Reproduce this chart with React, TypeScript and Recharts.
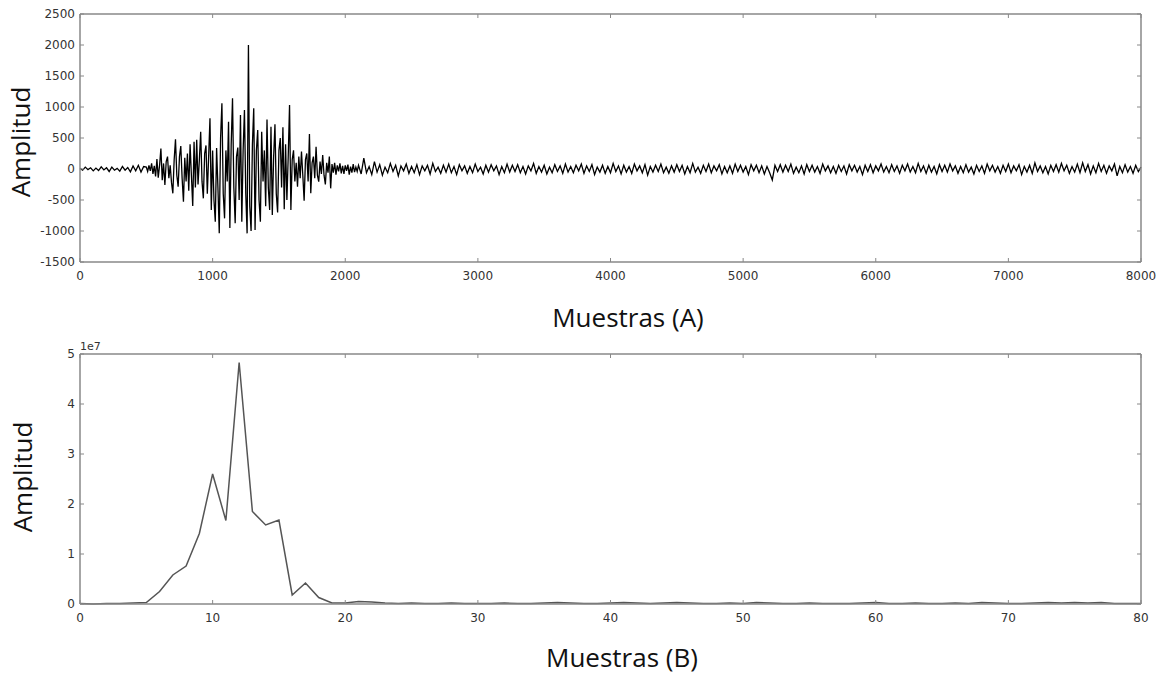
import React from 'react'
import { LineChart, Line, XAxis, YAxis } from 'recharts'

// señal en el tiempo (muestras 0..8000)
const quietHead = [
  10, -20, 30, -10, 20, -30, 15, -25, 35, -15, 20, -40, 30, -20, 10, -35, 40, -20, 25, -45,
  50, -30, 60, -50, 40,
] // 0..480, paso 20

const burst = [
  30, -40, 60, -30, 90, -80, 50, -120, 160, -140,
  60, 330, -180, 90, -258, 120, 200, -150, 60, -220,
  -392, 150, 478, -100, -285, 200, 370, -150, -527, 180,
  -200, 250, -350, 400, -100, -597, 440, -300, 470, -250,
  150, 600, -200, -473, 250, 380, -400, 200, 817, -661,
  300, -500, -850, 340, -300, -1038, 500, 1059, -400, -796,
  300, -200, 763, -950, 400, 1140, -300, -876, 200, 345,
  -500, 870, -850, 300, 950, -400, -1038, 2000, -600, -1000,
  400, 980, -984, 300, 629, -500, -849, 600, -200, 300,
  -600, 800, -300, -661, 683, -742, 200, 720, -400, -700,
  300, 500, -300, 672, -650, 400, -500, 200, 1032, -661,
  150, 300, -200, 100, -285, 200, -150, 280, -100, -510,
  150, 250, -200, 565, -392, 100, 200, -150, 360, -100,
  -204, 120, -80, 225, -100, -250, 100, -60, 200, -312,
  80, -60, 100, -90, 60, -40, 90, -70, 50, -80,
  60, -30, 70, -90, 40, -60, 80, -50, 30, -40,
] // 500..2090, paso 10

const quietTail = [
  60, -80, 177, -60, 40, -90, 120, -50, 70, -100, 30, -60, 90, -40, 60, -110, 50, -30, 80, -70,
  40, -60, 70, -90, 50, -30, 60, -80, 90, -40, 30, -70, 60, -50, 80, -60, 40, -90, 70, -30,
  50, -70, 40, -60, 80, -40, 30, -80, 60, -50, 70, -30, 50, -90, 40, -60, 80, -50, 60, -40,
  70, -60, 40, -80, 50, -30, 90, -70, 40, -50, 60, -80, 30, -60, 70, -40, 50, -70, 80, -50,
  40, -60, 60, -30, 80, -70, 50, -40, 70, -90, 30, -50, 60, -70, 40, -60, 90, -40, 50, -80,
  60, -50, 40, -70, 80, -30, 50, -60, 70, -100, 40, -50, 60, -40, 80, -60, 30, -70, 50, -50,
  70, -40, 60, -80, 40, -60, 90, -50, 30, -70, 60, -40, 80, -60, 50, -30, 70, -80, 40, -60,
  50, -70, 80, -40, 60, -50, 40, -90, 70, -30, 60, -60, 50, -80, 40, -60, -177, 60, -40, 70,
  -50, 60, -40, 80, -70, 30, -60, 50, -80, 70, -40, 60, -50, 40, -70, 80, -30, 50, -60, 40,
  -70, 60, -40, 50, -80, 70, -30, 60, -50, 40, -90, 60, -40, 70, -60, 50, -30, 80, -50, 40,
  -60, 70, -40, 50, -70, 60, -30, 80, -50, 40, -60, 90, -40, 50, -70, 60, -50, 40, -80, 70,
  -40, 60, -50, 80, -30, 50, -70, 40, -60, 70, -50, 30, -80, 60, -40, 50, -70, 80, -30, 60,
  -50, 40, -70, 60, -40, 80, -60, 50, -30, 70, -90, 40, -50, 60, -70, 100, -40, 50, -60, 40,
  -80, 60, -40, 70, -50, 90, -30, 60, -70, 40, -50, 80, -60, 100, -40, 70, -80, 50, -60, 90,
  -40, 60, -70, 50, -30, 80, -110, 40, -60, 70, -50, 40, -70, 60, -40, 30,
] // 2100..8000, paso 20

// espectro (unidades de 1e7), indices 0..80
const spectrum = [
  0.01, 0.0, 0.01, 0.01, 0.02, 0.03, 0.25, 0.58, 0.76, 1.41,
  2.6, 1.67, 4.83, 1.85, 1.58, 1.68, 0.18, 0.42, 0.13, 0.02,
  0.02, 0.05, 0.04, 0.02, 0.01, 0.02, 0.01, 0.01, 0.02, 0.01,
  0.01, 0.01, 0.02, 0.01, 0.01, 0.02, 0.03, 0.02, 0.01, 0.01,
  0.02, 0.03, 0.02, 0.01, 0.02, 0.03, 0.02, 0.01, 0.01, 0.02,
  0.01, 0.03, 0.02, 0.01, 0.01, 0.02, 0.01, 0.01, 0.01, 0.02,
  0.03, 0.01, 0.01, 0.02, 0.01, 0.01, 0.02, 0.01, 0.03, 0.02,
  0.01, 0.01, 0.02, 0.03, 0.02, 0.03, 0.02, 0.03, 0.01, 0.01,
  0.01,
]

const ticksA_x = [0, 1000, 2000, 3000, 4000, 5000, 6000, 7000, 8000]
const ticksA_y = [-1500, -1000, -500, 0, 500, 1000, 1500, 2000, 2500]
const ticksB_x = [0, 10, 20, 30, 40, 50, 60, 70, 80]
const ticksB_y = [0, 1, 2, 3, 4, 5]

const signalData = [
  ...quietHead.map((v, i) => ({ n: i * 20, a: v })),
  ...burst.map((v, i) => ({ n: 500 + i * 10, a: v })),
  ...quietTail.map((v, i) => ({ n: 2100 + i * 20, a: v })),
]
const spectrumData = spectrum.map((v, i) => ({ k: i, a: v }))

const SPINE = '#888'
const TXT = '#333'
const tickFont = { fontFamily: 'DejaVu Sans', fontSize: 12, fill: TXT }

const BottomTick = (p: any) => (
  <g>
    <line x1={p.x} y1={p.y} x2={p.x} y2={p.y - 4} stroke={SPINE} />
    <text x={p.x} y={p.y + 18} textAnchor="middle" {...tickFont}>{p.payload.value}</text>
  </g>
)
const TopTick = (p: any) => <line x1={p.x} y1={p.y} x2={p.x} y2={p.y + 4} stroke={SPINE} />
const LeftTick = (p: any) => (
  <g>
    <line x1={p.x} y1={p.y} x2={p.x + 4} y2={p.y} stroke={SPINE} />
    <text x={p.x - 5} y={p.y + 4} textAnchor="end" {...tickFont}>{p.payload.value}</text>
  </g>
)
const RightTick = (p: any) => <line x1={p.x} y1={p.y} x2={p.x - 4} y2={p.y} stroke={SPINE} />

const titleStyle: React.CSSProperties = {
  position: 'absolute',
  fontFamily: 'Open Sans',
  fontSize: 26,
  color: '#111',
  whiteSpace: 'nowrap',
}

// marco estilo matplotlib: ejes en los cuatro lados con marcas hacia dentro
const Frame = ({ data, xKey, xTicks, yTicks, xDomain, yDomain, stroke, width, height }: any) => (
  <LineChart width={1162} height={height} data={data} margin={{ top: 13, right: 20, left: 0, bottom: 0 }}>
    <XAxis dataKey={xKey} type="number" domain={xDomain} ticks={xTicks} interval={0} height={38}
      tickSize={0} tickMargin={0} tickLine={false} stroke={SPINE} strokeWidth={1.5} tick={<BottomTick />} />
    <XAxis xAxisId="top" orientation="top" dataKey={xKey} type="number" domain={xDomain} ticks={xTicks}
      interval={0} height={1} tickSize={0} tickMargin={0} tickLine={false} stroke={SPINE} strokeWidth={1.5} tick={<TopTick />} />
    <YAxis type="number" domain={yDomain} ticks={yTicks} interval={0} width={80}
      tickSize={0} tickMargin={0} tickLine={false} stroke={SPINE} strokeWidth={1.5} tick={<LeftTick />} />
    <YAxis yAxisId="right" orientation="right" type="number" domain={yDomain} ticks={yTicks} interval={0} width={1}
      tickSize={0} tickMargin={0} tickLine={false} stroke={SPINE} strokeWidth={1.5} tick={<RightTick />} />
    {/* serie oculta para que los ejes de arriba y derecha tengan datos */}
    <Line xAxisId="top" yAxisId="right" dataKey="a" stroke="none" dot={false} activeDot={false}
      isAnimationActive={false} />
    <Line dataKey="a" type="linear" stroke={stroke} strokeWidth={width} dot={false} isAnimationActive={false} />
  </LineChart>
)

export default function App() {
  return (
    <div style={{ position: 'absolute', left: 0, top: 0, width: 1162, height: 673, background: '#fff' }}>
      <div style={{ position: 'absolute', left: 0, top: 0 }}>
        <Frame data={signalData} xKey="n" xTicks={ticksA_x} yTicks={ticksA_y} height={300}
          xDomain={[0, 8000]} yDomain={[-1500, 2500]} stroke="#000" width={1.3} />
      </div>
      <div style={{ position: 'absolute', left: 0, top: 340 }}>
        <Frame data={spectrumData} xKey="k" xTicks={ticksB_x} yTicks={ticksB_y} height={302}
          xDomain={[0, 80]} yDomain={[0, 5]} stroke="#555" width={1.5} />
      </div>
      <div style={{ ...tickFont, position: 'absolute', left: 80, top: 340, fontSize: 11, color: TXT }}>1e7</div>
      <div style={{ ...titleStyle, left: 20, top: 142, transform: 'translate(-50%, -50%) rotate(-90deg)' }}>Amplitud</div>
      <div style={{ ...titleStyle, left: 22, top: 477, transform: 'translate(-50%, -50%) rotate(-90deg)' }}>Amplitud</div>
      <div style={{ ...titleStyle, left: 628, top: 317, transform: 'translate(-50%, -50%)' }}>Muestras (A)</div>
      <div style={{ ...titleStyle, left: 622, top: 657, transform: 'translate(-50%, -50%)' }}>Muestras (B)</div>
    </div>
  )
}
